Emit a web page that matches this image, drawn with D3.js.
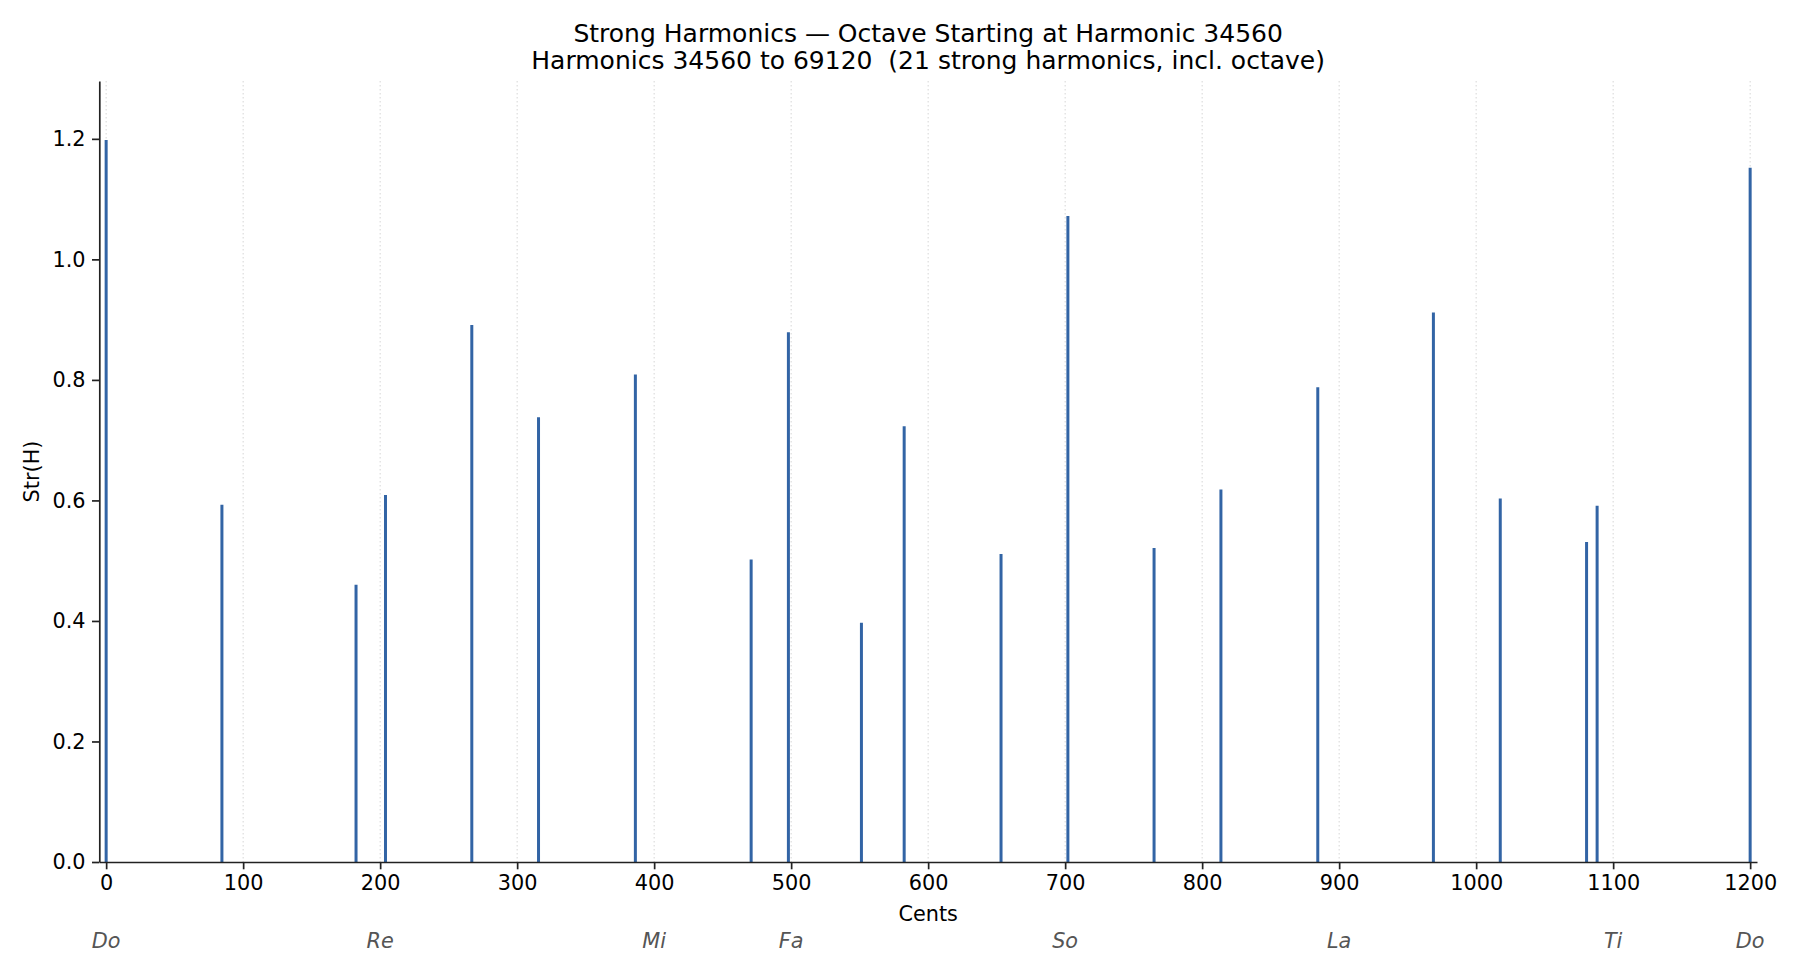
<!DOCTYPE html>
<html>
<head>
<meta charset="utf-8">
<script src="https://cdn.jsdelivr.net/npm/d3@7"></script>
<style>
  body { margin: 0; background: #fff; }
  text { font-family: "DejaVu Sans", sans-serif; }
</style>
</head>
<body>
<div id="chart"></div>
<script>
// Strong harmonics positions (cents above harmonic 34560) and their strength
const cents = [0, 84.5, 182.4, 203.9, 266.9, 315.6, 386.3, 470.8, 498.0, 551.3, 582.5,
    653.2, 702.0, 764.9, 813.7, 884.4, 968.8, 1017.6, 1080.6, 1088.3, 1200];
const strength = [1.198, 0.593, 0.46, 0.609, 0.891, 0.738, 0.809, 0.502, 0.879, 0.397, 0.723,
    0.511, 1.072, 0.521, 0.618, 0.788, 0.912, 0.603, 0.531, 0.591, 1.152];

const xTicks = [0, 100, 200, 300, 400, 500, 600, 700, 800, 900, 1000, 1100, 1200];
const yTicks = [0, 0.2, 0.4, 0.6, 0.8, 1.0, 1.2];
const solfege = ["Do", "Re", "Mi", "Fa", "So", "La", "Ti", "Do"];
const solfegeCents = [0, 200, 400, 500, 700, 900, 1100, 1200];

const titleLines = [
    "Strong Harmonics \u2014 Octave Starting at Harmonic 34560",
    "Harmonics 34560 to 69120  (21 strong harmonics, incl. octave)"
];

const W = 1800, H = 975;
const plotL = 99.3, plotR = 1757, plotT = 81, plotB = 862;

const svg = d3.select("#chart").append("svg")
    .attr("width", W)
    .attr("height", H);

const x = d3.scaleLinear().domain([-5, 1205]).range([plotL, plotR]);
const y = d3.scaleLinear().domain([0, 1.296]).range([plotB, plotT]);

// vertical dotted grid
svg.append("g")
    .selectAll("line")
    .data(xTicks)
    .enter()
    .append("line")
    .attr("x1", d => x(d))
    .attr("x2", d => x(d))
    .attr("y1", plotT)
    .attr("y2", plotB)
    .attr("stroke", "#d6d6d6")
    .attr("stroke-width", 1)
    .attr("stroke-dasharray", "1.5,2.5");

// stems
svg.append("g")
    .selectAll("line")
    .data(cents)
    .enter()
    .append("line")
    .attr("x1", d => x(d))
    .attr("x2", d => x(d))
    .attr("y1", y(0))
    .attr("y2", (d, i) => y(strength[i]))
    .attr("stroke", "#3264a5")
    .attr("stroke-width", 3);

// axes
const xAxis = svg.append("g")
    .attr("transform", `translate(0,${plotB})`)
    .call(d3.axisBottom(x).tickValues(xTicks).tickFormat(d3.format("d"))
        .tickSize(7.3).tickPadding(5.5).tickSizeOuter(0));

const yAxis = svg.append("g")
    .attr("transform", `translate(${plotL},0)`)
    .call(d3.axisLeft(y).tickValues(yTicks).tickFormat(d3.format(".1f"))
        .tickSize(7.3).tickPadding(6.5).tickSizeOuter(0));

[xAxis, yAxis].forEach(g => {
    g.select(".domain").attr("stroke", "#222").attr("stroke-width", 1.7);
    g.selectAll(".tick line").attr("stroke", "#222").attr("stroke-width", 1.7);
    g.selectAll("text")
        .attr("fill", "#000")
        .style("font-family", "DejaVu Sans")
        .style("font-size", "20.8px");
});

// axis labels
svg.append("text")
    .attr("x", (plotL + plotR) / 2)
    .attr("y", 921)
    .attr("text-anchor", "middle")
    .style("font-size", "20.8px")
    .text("Cents");

svg.append("text")
    .attr("transform", `translate(39,${(plotT + plotB) / 2}) rotate(-90)`)
    .attr("text-anchor", "middle")
    .style("font-size", "20.8px")
    .text("Str(H)");

// solfege names under axis
svg.append("g")
    .selectAll("text")
    .data(solfege)
    .enter()
    .append("text")
    .attr("x", (d, i) => x(solfegeCents[i]))
    .attr("y", 948)
    .attr("text-anchor", "middle")
    .attr("fill", "#555")
    .style("font-style", "italic")
    .style("font-size", "20.8px")
    .text(d => d);

// title
svg.append("g")
    .selectAll("text")
    .data(titleLines)
    .enter()
    .append("text")
    .attr("x", (plotL + plotR) / 2)
    .attr("y", (d, i) => 41.7 + i * 27)
    .attr("text-anchor", "middle")
    .style("font-size", "25px")
    .style("white-space", "pre")
    .text(d => d);
</script>
</body>
</html>
